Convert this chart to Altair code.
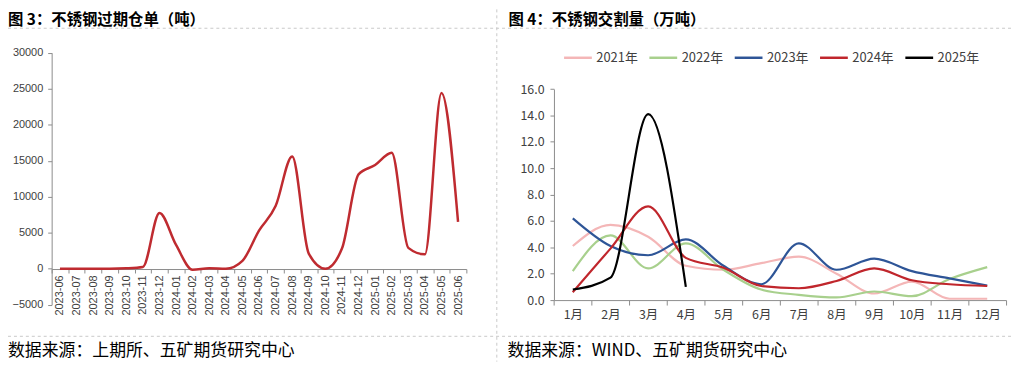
import altair as alt
import pandas as pd

# ---------------- data ----------------
left_months = ["2023-06", "2023-07", "2023-08", "2023-09", "2023-10", "2023-11", "2023-12",
               "2024-01", "2024-02", "2024-03", "2024-04", "2024-05", "2024-06", "2024-07",
               "2024-08", "2024-09", "2024-10", "2024-11", "2024-12",
               "2025-01", "2025-02", "2025-03", "2025-04", "2025-05", "2025-06"]
left_values = [0, 0, 0, 0, 60, 250, 7750, 3300, -150, 60, 0, 1100, 5300, 8700,
               15600, 2100, 0, 2800, 13100, 14400, 16100, 2900, 2000, 24400, 6500]
left_y_ticks = [-5000, 0, 5000, 10000, 15000, 20000, 25000, 30000]

right_months = ["1月", "2月", "3月", "4月", "5月", "6月", "7月", "8月", "9月", "10月", "11月", "12月"]
series_names = ["2021年", "2022年", "2023年", "2024年", "2025年"]
s2021 = [4.1, 5.7, 4.8, 2.6, 2.3, 2.8, 3.3, 2.0, 0.5, 1.4, 0.1, 0.1]
s2022 = [2.2, 4.9, 2.4, 4.3, 2.3, 0.8, 0.4, 0.2, 0.65, 0.3, 1.6, 2.5]
s2023 = [6.2, 4.1, 3.4, 4.6, 2.6, 1.2, 4.3, 2.3, 3.15, 2.2, 1.65, 1.1]
s2024 = [0.6, 3.9, 7.1, 3.2, 2.45, 1.07, 0.9, 1.45, 2.4, 1.5, 1.2, 1.07]
s2025 = [0.8, 1.7, 14.1, 1.0]
right_y_ticks = [0, 2, 4, 6, 8, 10, 12, 14, 16]
series_colors = ["#F4B6B7", "#A8D08D", "#2E5597", "#C0262C", "#000000"]

title_left = "图 3：不锈钢过期仓单（吨）"
title_right = "图 4：不锈钢交割量（万吨）"
source_left = "数据来源：上期所、五矿期货研究中心"
source_right = "数据来源：WIND、五矿期货研究中心"

# ---------------- layout ----------------
W, H = 1013, 355
left_x_range = [44, 462]
left_y_range = [297.7, 43.7]
left_zero_y = 261.7
right_x_range = [550.3, 1006]
right_y_range = [293, 80.3]

CJK = "Noto Sans CJK SC"
LAT = "Liberation Sans"
AX_COLOR = "#8C8C8C"
LBL_COLOR = "#404040"

left_df = pd.DataFrame({"month": left_months, "value": left_values})

left = alt.Chart(left_df).mark_line(
    interpolate="monotone", color="#BF2B30", strokeWidth=2.5
).encode(
    x=alt.X("month:N", sort=left_months, bandPosition=0.5,
            scale=alt.Scale(type="band", range=left_x_range, paddingInner=0, paddingOuter=0),
            axis=alt.Axis(orient="bottom", offset=left_zero_y - H, title=None, labelAngle=270,
                          tickBand="extent", tickSize=4, labelPadding=2,
                          labelFont=LAT, labelFontSize=11, labelColor=LBL_COLOR,
                          domainColor=AX_COLOR, tickColor=AX_COLOR, grid=False)),
    y=alt.Y("value:Q",
            scale=alt.Scale(domain=[-5000, 30000], range=left_y_range, nice=False, zero=False),
            axis=alt.Axis(orient="left", offset=-44, values=left_y_ticks, title=None, grid=False,
                          tickSize=4, labelPadding=5, format="d",
                          labelFont=LAT, labelFontSize=11, labelColor=LBL_COLOR,
                          domainColor=AX_COLOR, tickColor=AX_COLOR)),
)

rows = []
for name, vals in zip(series_names, [s2021, s2022, s2023, s2024, s2025]):
    for m, v in zip(right_months, vals):
        rows.append({"month": m, "value": v, "year": name})
right_df = pd.DataFrame(rows)

right = alt.Chart(right_df).mark_line(
    interpolate="monotone", strokeWidth=2.2
).encode(
    x=alt.X("month:N", sort=right_months, bandPosition=0.5,
            scale=alt.Scale(type="band", range=right_x_range, paddingInner=0, paddingOuter=0),
            axis=alt.Axis(orient="bottom", offset=right_y_range[0] - H, title=None, labelAngle=0,
                          tickBand="extent", tickSize=5, labelPadding=4,
                          labelFont=CJK, labelFontSize=12.5, labelColor=LBL_COLOR,
                          domainColor=AX_COLOR, tickColor=AX_COLOR, grid=False)),
    y=alt.Y("value:Q",
            scale=alt.Scale(domain=[0, 16], range=right_y_range, nice=False, zero=False),
            axis=alt.Axis(orient="left", offset=-right_x_range[0], values=right_y_ticks, title=None,
                          grid=False, tickSize=4, labelPadding=6, format=".1f",
                          labelFont=CJK, labelFontSize=12.5, labelColor=LBL_COLOR,
                          domainColor=AX_COLOR, tickColor=AX_COLOR)),
    color=alt.Color("year:N", sort=series_names,
                    scale=alt.Scale(domain=series_names, range=series_colors),
                    legend=alt.Legend(orient="none", legendX=559, legendY=33, direction="horizontal",
                                      title=None, symbolType="stroke", symbolSize=784,
                                      symbolStrokeWidth=2.5, labelFont=CJK, labelFontSize=13,
                                      labelColor=LBL_COLOR, labelOffset=3, columnPadding=6)),
)

one = pd.DataFrame({"k": [0]})


def text_layer(txt, x, y, size, weight="normal"):
    return alt.Chart(one).mark_text(
        align="left", baseline="top", font=CJK, fontSize=size, fontWeight=weight, color="#000000"
    ).encode(x=alt.value(x), y=alt.value(y), text=alt.value(txt))


def rule_layer(x, x2, y, y2):
    return alt.Chart(one).mark_rule(color="#C8C8C8", strokeDash=[3, 3], strokeWidth=1).encode(
        x=alt.value(x), x2=alt.value(x2), y=alt.value(y), y2=alt.value(y2))


deco = [
    rule_layer(0, W, 19, 19),
    rule_layer(0, W, 329.5, 329.5),
    rule_layer(492.7, 492.7, 0, H),
    text_layer(title_left, 0, 3.5, 15.5, "bold"),
    text_layer(title_right, 504.5, 3.5, 15.5, "bold"),
    text_layer(source_left, 0, 336.5, 17),
    text_layer(source_right, 503.5, 336.5, 17),
]

chart = alt.layer(left, right, *deco).resolve_scale(
    x="independent", y="independent"
).resolve_axis(
    x="independent", y="independent"
).properties(
    width=W, height=H, padding=0, autosize=alt.AutoSizeParams(type="none")
).configure_view(stroke=None)

chart.save("out.html", embed_options={"renderer": "svg", "actions": False})
